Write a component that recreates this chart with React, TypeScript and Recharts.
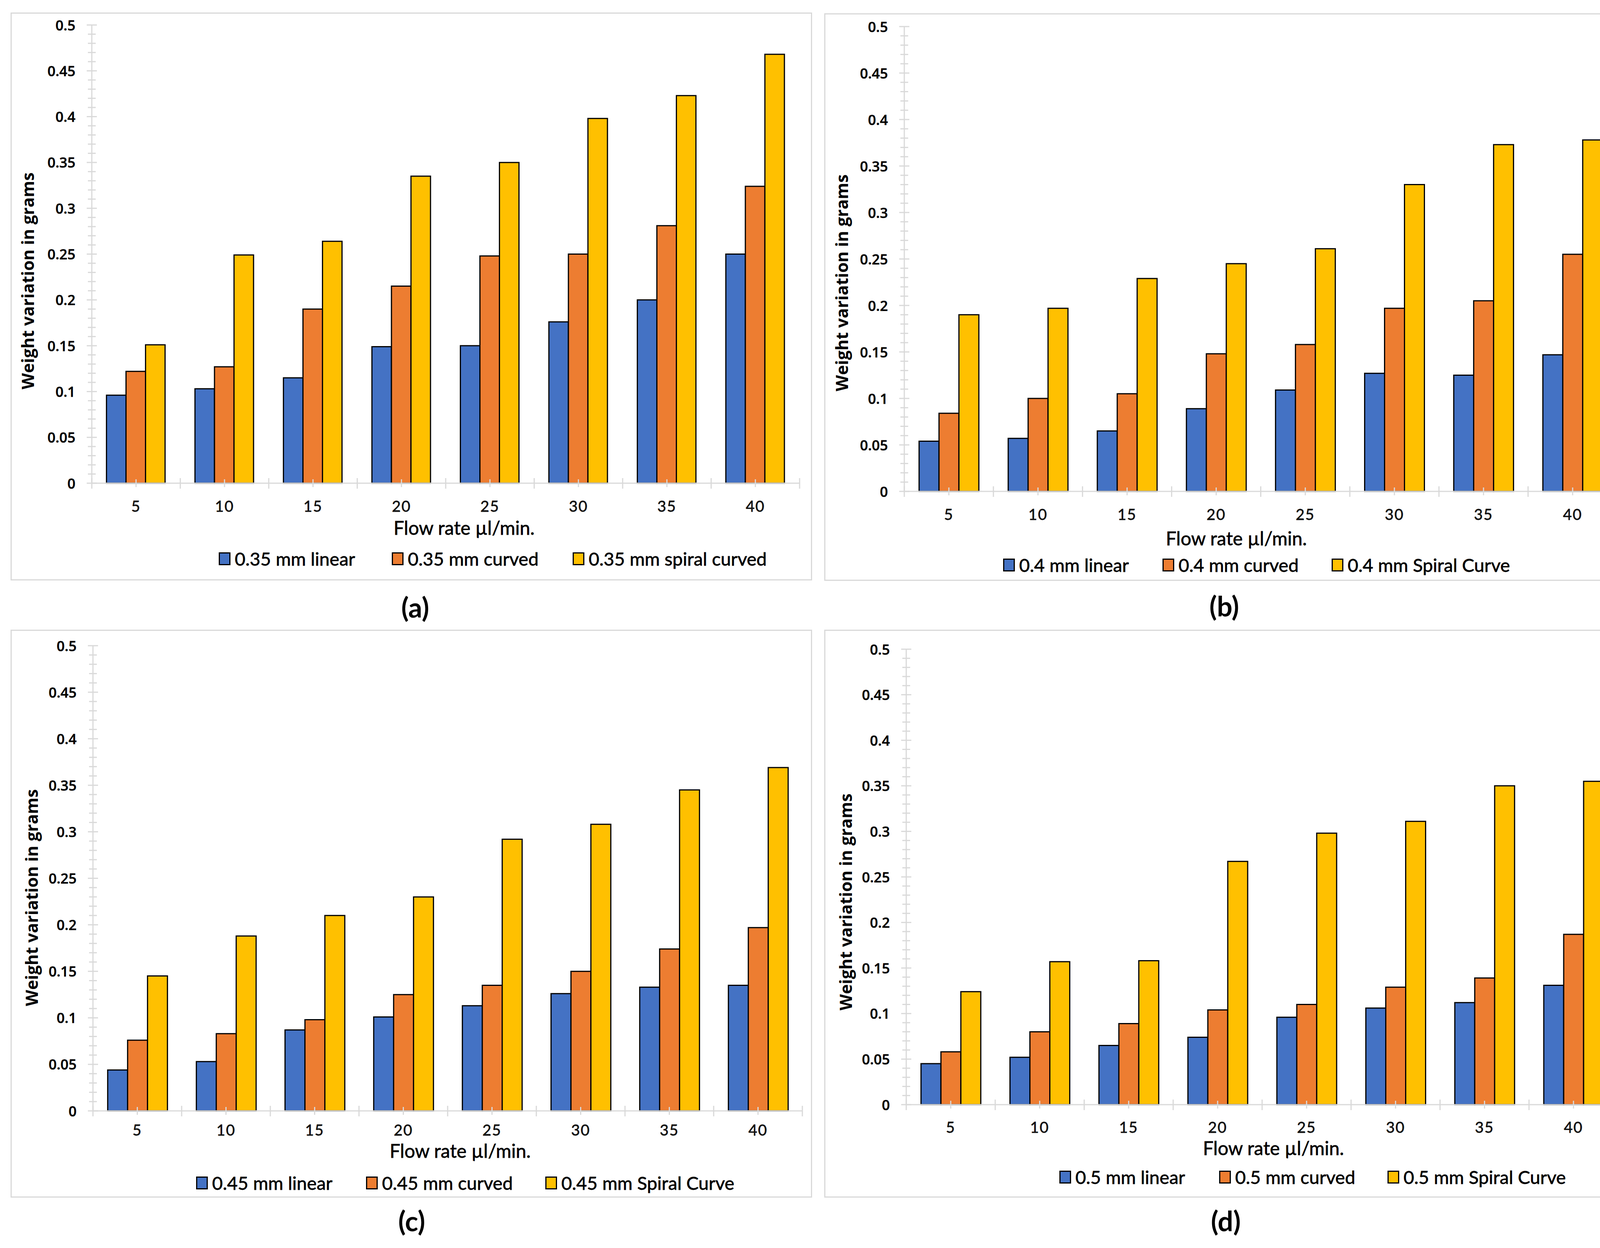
import React from 'react'
import { BarChart, Bar, XAxis, YAxis } from 'recharts'

const flowRates = ['5', '10', '15', '20', '25', '30', '35', '40']
const yMajorLabels = ['0', '0.05', '0.1', '0.15', '0.2', '0.25', '0.3', '0.35', '0.4', '0.45', '0.5']

// (a) 0.35 mm
const a_linear = [0.096, 0.103, 0.115, 0.149, 0.15, 0.176, 0.2, 0.25]
const a_curved = [0.122, 0.127, 0.19, 0.215, 0.248, 0.25, 0.281, 0.324]
const a_spiral = [0.151, 0.249, 0.264, 0.335, 0.35, 0.398, 0.423, 0.468]

// (b) 0.4 mm
const b_linear = [0.054, 0.057, 0.065, 0.089, 0.109, 0.127, 0.125, 0.147]
const b_curved = [0.084, 0.1, 0.105, 0.148, 0.158, 0.197, 0.205, 0.255]
const b_spiral = [0.19, 0.197, 0.229, 0.245, 0.261, 0.33, 0.373, 0.378]

// (c) 0.45 mm
const c_linear = [0.044, 0.053, 0.087, 0.101, 0.113, 0.126, 0.133, 0.135]
const c_curved = [0.076, 0.083, 0.098, 0.125, 0.135, 0.15, 0.174, 0.197]
const c_spiral = [0.145, 0.188, 0.21, 0.23, 0.292, 0.308, 0.345, 0.369]

// (d) 0.5 mm
const d_linear = [0.045, 0.052, 0.065, 0.074, 0.096, 0.106, 0.112, 0.131]
const d_curved = [0.058, 0.08, 0.089, 0.104, 0.11, 0.129, 0.139, 0.187]
const d_spiral = [0.124, 0.157, 0.158, 0.267, 0.298, 0.311, 0.35, 0.355]

const COLORS = ['#4472C4', '#ED7D31', '#FFC000']
const GRID = '#d9d9d9'
const NUM_FONT = '"Open Sans", "DejaVu Sans", sans-serif'
const TXT_FONT = 'Lato, "Open Sans", sans-serif'

// every 0.01 gets a small tick, every 0.05 a bigger one with a label
const yTicks = Array.from({ length: 51 }, (_, i) => i / 100)

const panels = [
  {
    letter: '(a)', names: ['0.35 mm linear', '0.35 mm curved', '0.35 mm spiral curved'],
    values: [a_linear, a_curved, a_spiral],
    box: { x: 27, y: 32, w: 2052, h: 1454 }, axisX: 235, endX: 2047, top: 64, zero: 1237,
    tickY: 1295, titleX: 1188, titleY: 1351, legendY: 1430, legendX: [560, 1003, 1466],
    yLabel: [70, 719], letterPos: [1063, 1554],
  },
  {
    letter: '(b)', names: ['0.4 mm linear', '0.4 mm curved', '0.4 mm Spiral Curve'],
    values: [b_linear, b_curved, b_spiral],
    box: { x: 2110, y: 34, w: 2051, h: 1453 }, axisX: 2315, endX: 4140, top: 68, zero: 1258,
    tickY: 1316, titleX: 3165, titleY: 1378, legendY: 1446, legendX: [2568, 2976, 3409],
    yLabel: [2154, 724], letterPos: [3134, 1551],
  },
  {
    letter: '(c)', names: ['0.45 mm linear', '0.45 mm curved', '0.45 mm Spiral Curve'],
    values: [c_linear, c_curved, c_spiral],
    box: { x: 27, y: 1612, w: 2052, h: 1454 }, axisX: 238, endX: 2054, top: 1653, zero: 2844,
    tickY: 2892, titleX: 1178, titleY: 2946, legendY: 3028, legendX: [502, 937, 1396],
    yLabel: [80, 2298], letterPos: [1054, 3125],
  },
  {
    letter: '(d)', names: ['0.5 mm linear', '0.5 mm curved', '0.5 mm Spiral Curve'],
    values: [d_linear, d_curved, d_spiral],
    box: { x: 2110, y: 1612, w: 2052, h: 1454 }, axisX: 2320, endX: 4142, top: 1662, zero: 2828,
    tickY: 2885, titleX: 3260, titleY: 2939, legendY: 3013, legendX: [2712, 3121, 3552],
    yLabel: [2164, 2309], letterPos: [3138, 3125],
  },
]

type PanelCfg = (typeof panels)[number]

function YTick(props: any) {
  const { x, y, payload } = props
  const v = payload.value
  const idx = Math.round(v * 20)
  const major = Math.abs(v * 20 - idx) < 1e-6
  const half = major ? 13 : 10
  return (
    <g>
      <line x1={x - half} x2={x + half} y1={y} y2={y} stroke={GRID} strokeWidth={3} />
      {major && (
        <text x={x - 42} y={y} textAnchor="end" dominantBaseline="central"
          fontFamily={NUM_FONT} fontWeight={600} fontSize={36} fill="#000"
          stroke="#000" strokeWidth={0.6}>
          {yMajorLabels[idx]}
        </text>
      )}
    </g>
  )
}

function Panel({ cfg }: { cfg: PanelCfg }) {
  const { box } = cfg
  const data = flowRates.map((f, i) => ({
    flow: f,
    linear: cfg.values[0][i],
    curved: cfg.values[1][i],
    spiral: cfg.values[2][i],
  }))
  const band = (cfg.endX - cfg.axisX) / flowRates.length
  const labelDy = cfg.tickY - cfg.zero

  const XTick = (props: any) => {
    const { x, y, payload, index } = props
    return (
      <g>
        <line x1={x} x2={x} y1={y - 10} y2={y + 10} stroke={GRID} strokeWidth={3} />
        <line x1={x - band / 2} x2={x - band / 2} y1={y - 13} y2={y + 14} stroke={GRID} strokeWidth={3} />
        {index === flowRates.length - 1 && (
          <line x1={x + band / 2} x2={x + band / 2} y1={y - 13} y2={y + 14} stroke={GRID} strokeWidth={3} />
        )}
        <text x={x} y={y + labelDy} textAnchor="middle" dominantBaseline="central"
          fontFamily={TXT_FONT} fontSize={39} letterSpacing={2} fill="#111"
          stroke="#111" strokeWidth={0.8}>
          {payload.value}
        </text>
      </g>
    )
  }

  return (
    <>
      <div style={{
        position: 'absolute', left: box.x, top: box.y, width: box.w, height: box.h,
        border: `3px solid ${GRID}`, boxSizing: 'border-box',
      }} />
      <div style={{ position: 'absolute', left: box.x, top: box.y }}>
        <BarChart
          width={box.w}
          height={box.h}
          data={data}
          barCategoryGap="16.6%"
          barGap={0}
          margin={{ top: cfg.top - box.y, right: box.x + box.w - cfg.endX, bottom: 0, left: 0 }}
        >
          <XAxis
            dataKey="flow"
            interval={0}
            height={box.y + box.h - cfg.zero}
            axisLine={{ stroke: GRID, strokeWidth: 3 }}
            tickLine={false}
            tickSize={0}
            tickMargin={0}
            tick={XTick}
          />
          <YAxis
            type="number"
            domain={[0, 0.5]}
            ticks={yTicks}
            interval={0}
            width={cfg.axisX - box.x}
            axisLine={{ stroke: GRID, strokeWidth: 3 }}
            tickLine={false}
            tickSize={0}
            tickMargin={0}
            tick={YTick}
          />
          <Bar dataKey="linear" fill={COLORS[0]} stroke="#000" strokeWidth={3} isAnimationActive={false} />
          <Bar dataKey="curved" fill={COLORS[1]} stroke="#000" strokeWidth={3} isAnimationActive={false} />
          <Bar dataKey="spiral" fill={COLORS[2]} stroke="#000" strokeWidth={3} isAnimationActive={false} />
        </BarChart>
      </div>

      {/* y axis title */}
      <div style={{
        position: 'absolute', left: cfg.yLabel[0], top: cfg.yLabel[1],
        transform: 'translate(-50%, -50%) rotate(-90deg)', whiteSpace: 'nowrap',
        fontFamily: NUM_FONT, fontWeight: 700, fontSize: 43, color: '#000', lineHeight: 1,
      }}>
        Weight variation in grams
      </div>

      {/* x axis title */}
      <div style={{
        position: 'absolute', left: cfg.titleX, top: cfg.titleY,
        transform: 'translate(-50%, -50%)', whiteSpace: 'nowrap',
        fontFamily: TXT_FONT, fontSize: 48, color: '#000', lineHeight: 1,
        WebkitTextStroke: '0.8px #000',
      }}>
        Flow rate µl/min.
      </div>

      {/* legend */}
      {cfg.names.map((n, i) => (
        <div key={n} style={{
          position: 'absolute', left: cfg.legendX[i], top: cfg.legendY - 18,
          display: 'flex', alignItems: 'center', height: 36, whiteSpace: 'nowrap',
        }}>
          <div style={{
            width: 30, height: 33, background: COLORS[i], border: '3px solid #000', boxSizing: 'border-box',
          }} />
          <span style={{
            marginLeft: 11, fontFamily: TXT_FONT, fontSize: 47, color: '#000', lineHeight: 1,
            WebkitTextStroke: '0.8px #000',
          }}>{n}</span>
        </div>
      ))}

      {/* panel letter */}
      <div style={{
        position: 'absolute', left: cfg.letterPos[0], top: cfg.letterPos[1],
        transform: 'translate(-50%, -50%)', fontFamily: TXT_FONT, fontWeight: 700,
        fontSize: 70, color: '#000', lineHeight: 1,
      }}>
        {cfg.letter}
      </div>
    </>
  )
}

export default function App() {
  return (
    <div style={{ position: 'absolute', left: 0, top: 0, width: 4190, height: 3195, background: '#fff', overflow: 'hidden' }}>
      {panels.map((p) => (
        <Panel key={p.letter} cfg={p} />
      ))}
    </div>
  )
}
